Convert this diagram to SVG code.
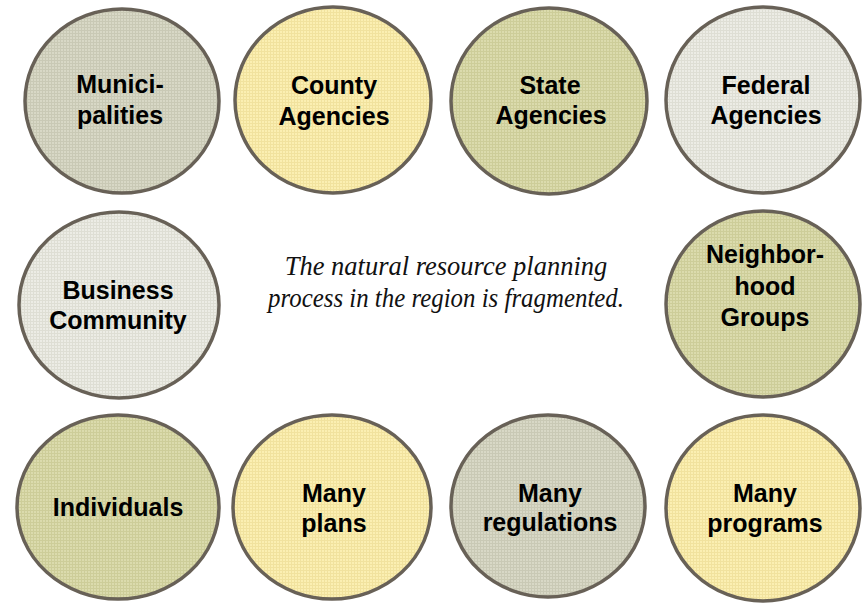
<svg xmlns="http://www.w3.org/2000/svg" width="862" height="605" viewBox="0 0 862 605">
<style>
.node ellipse{stroke:#686157;stroke-width:3.5}
.lbl{font-family:'Liberation Sans',Arimo,Arial,Helvetica,sans-serif;font-weight:700;font-size:25px;fill:#000;text-anchor:middle}
.cap{font-family:'Liberation Serif',Tinos,'Times New Roman',Times,serif;font-style:italic;font-size:26.5px;fill:#111;text-anchor:middle}
</style>
<defs>
<pattern id="pGray" width="6" height="6" patternUnits="userSpaceOnUse">
<rect width="6" height="6" fill="#d8d8c6"/>
<path d="M0 0.5H6M0 3.5H6M0.5 0V6M3.5 0V6" stroke="#c9c9b5" stroke-width="1"/>
</pattern>
<pattern id="pYellow" width="6" height="6" patternUnits="userSpaceOnUse">
<rect width="6" height="6" fill="#fbefb2"/>
<path d="M0 0.5H6M0 3.5H6M0.5 0V6M3.5 0V6" stroke="#f1e29e" stroke-width="1"/>
</pattern>
<pattern id="pOlive" width="6" height="6" patternUnits="userSpaceOnUse">
<rect width="6" height="6" fill="#dbdbad"/>
<path d="M0 0.5H6M0 3.5H6M0.5 0V6M3.5 0V6" stroke="#cdcd99" stroke-width="1"/>
</pattern>
<pattern id="pLight" width="6" height="6" patternUnits="userSpaceOnUse">
<rect width="6" height="6" fill="#ecece5"/>
<path d="M0 0.5H6M0 3.5H6M0.5 0V6M3.5 0V6" stroke="#deded4" stroke-width="1"/>
</pattern>
</defs>
<rect width="862" height="605" fill="#fff"/>
<g id="connectors"/>
<g id="municipalities" class="node">
<ellipse cx="122" cy="101" rx="97" ry="92" fill="url(#pGray)"/>
<text class="lbl" x="120" y="93">Munici-</text>
<text class="lbl" x="120" y="124">palities</text>
</g>
<g id="county" class="node">
<ellipse cx="333" cy="100" rx="98" ry="93" fill="url(#pYellow)"/>
<text class="lbl" x="334" y="94">County</text>
<text class="lbl" x="334" y="125">Agencies</text>
</g>
<g id="state" class="node">
<ellipse cx="549" cy="101" rx="98" ry="93" fill="url(#pOlive)"/>
<text class="lbl" x="550" y="94">State</text>
<text class="lbl" x="551" y="124">Agencies</text>
</g>
<g id="federal" class="node">
<ellipse cx="763" cy="100" rx="97" ry="93" fill="url(#pLight)"/>
<text class="lbl" x="766" y="94">Federal</text>
<text class="lbl" x="766" y="124">Agencies</text>
</g>
<g id="business" class="node">
<ellipse cx="119" cy="305" rx="100" ry="93" fill="url(#pLight)"/>
<text class="lbl" x="118" y="299">Business</text>
<text class="lbl" x="118" y="329">Community</text>
</g>
<g id="neighborhood" class="node">
<ellipse cx="763" cy="304" rx="97" ry="93" fill="url(#pOlive)"/>
<text class="lbl" x="765" y="263">Neighbor-</text>
<text class="lbl" x="765" y="295">hood</text>
<text class="lbl" x="765" y="326">Groups</text>
</g>
<g id="individuals" class="node">
<ellipse cx="118" cy="507" rx="101" ry="92" fill="url(#pOlive)"/>
<text class="lbl" x="118" y="516">Individuals</text>
</g>
<g id="plans" class="node">
<ellipse cx="332" cy="507" rx="99" ry="92" fill="url(#pYellow)"/>
<text class="lbl" x="334" y="502">Many</text>
<text class="lbl" x="334" y="532">plans</text>
</g>
<g id="regulations" class="node">
<ellipse cx="548" cy="506" rx="97" ry="91" fill="url(#pGray)"/>
<text class="lbl" x="550" y="502">Many</text>
<text class="lbl" x="550" y="531">regulations</text>
</g>
<g id="programs" class="node">
<ellipse cx="763" cy="508" rx="97" ry="93" fill="url(#pYellow)"/>
<text class="lbl" x="765" y="502">Many</text>
<text class="lbl" x="765" y="532">programs</text>
</g>
<g id="caption">
<text class="cap" x="446" y="275">The natural resource planning</text>
<text class="cap" x="446" y="307" textLength="356" lengthAdjust="spacingAndGlyphs">process in the region is fragmented.</text>
</g>
</svg>
